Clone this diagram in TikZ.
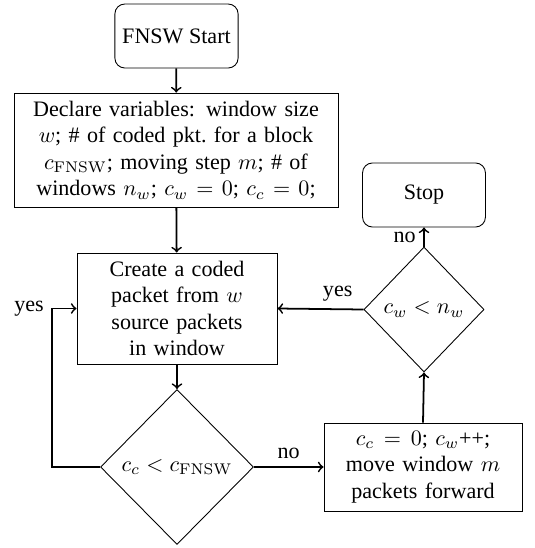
\documentclass[tikz,border=0pt]{standalone}
\usepackage{amsmath}
\usepackage[no-math]{fontspec}
\setmainfont{Liberation Serif}
\usepackage{tikz}
\usetikzlibrary{shapes.geometric}

\begin{document}
\begin{tikzpicture}[x=0.453pt,y=-0.453pt,font=\fontsize{10}{12}\selectfont,
term/.style={draw,rounded corners=4.5pt,minimum width=55.7pt,minimum height=29pt,align=center},
proc/.style n args={3}{draw,rectangle,minimum width=#1,minimum height=#2,text width=#3,inner sep=2pt,align=center},
cond/.style n args={2}{draw,diamond,inner sep=0pt,minimum width=#1,minimum height=#2,align=center},
arr/.style={->,thick}]
\useasboundingbox (0,0) rectangle (535,548);
\node[term](start) at(176.5,36) {FNSW Start};
\node[proc={146.8pt}{51.6pt}{140pt}](decl) at(176,150)
   {Declare variables: window size\\ $w$; \# of coded pkt.\ for a block\\ $c_{\mathrm{FNSW}}$; moving step $m$; \# of\\ windows $n_w$; $c_w = 0$; $c_c = 0$;};
\node[term](stop) at(424,195) {Stop};
\node[proc={90.6pt}{50.3pt}{84pt}](create) at(177,308.5)
   {Create a coded\\ packet from $w$\\ source packets\\ in window};
\node[cond={69.3pt}{70.2pt}](cmp1) at(177,467) {$c_c < c_{\mathrm{FNSW}}$};
\node[cond={54.4pt}{56.6pt}](cmp2) at(424,309.5) {$c_w < n_w$};
\node[proc={89.7pt}{39.9pt}{84pt}](upd) at(423,467)
   {$c_c = 0$; $c_w$++;\\ move window $m$\\ packets forward};
\draw[arr] (start) -- (decl);
\draw[arr] (decl) -- (create);
\draw[arr] (create) -- (cmp1);
\draw[arr] (cmp1.west) -- ++(-48,0) |- node[pos=0.5,left]{yes} (create.west);
\draw[arr] (cmp1.east) -- node[above]{no} (upd.west);
\draw[arr] (upd.north) -- (cmp2.south);
\draw[arr] (cmp2.west) -- node[above,pos=0.3]{yes} (create.east);
\draw[arr] (cmp2.north) -- node[left]{no} (stop.south);
\end{tikzpicture}
\end{document}
